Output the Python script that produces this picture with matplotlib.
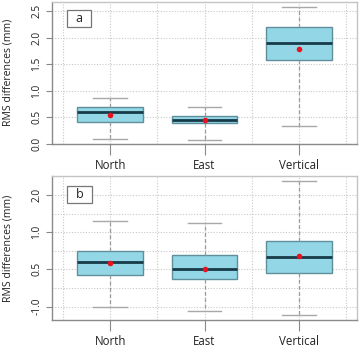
import matplotlib
matplotlib.use("Agg")
import matplotlib.pyplot as plt
from matplotlib.patches import Rectangle

plt.rcParams['font.family'] = ['Open Sans', 'DejaVu Sans']

categories = ["North", "East", "Vertical"]

# Panel a statistics (mm): whisker low, q1, median, q3, whisker high, mean
a_low = [0.09, 0.075, 0.33]
a_q1 = [0.41, 0.39, 1.57]
a_med = [0.60, 0.45, 1.89]
a_q3 = [0.69, 0.53, 2.20]
a_high = [0.86, 0.70, 2.58]
a_mean = [0.545, 0.46, 1.78]
a_ticks = [0.0, 0.5, 1.0, 1.5, 2.0, 2.5]
a_ticklabels = ["0.0", "0.5", "1.0", "1.5", "2.0", "2.5"]

# Panel b statistics, in tick-index units of the (irregularly labelled) axis
b_low = [-0.01, -0.125, -0.22]
b_q1 = [0.84, 0.74, 0.91]
b_med = [1.20, 1.01, 1.33]
b_q3 = [1.49, 1.38, 1.77]
b_high = [2.31, 2.24, 3.37]
b_mean = [1.16, 1.01, 1.36]
b_ticks = [0, 1, 2, 3]
b_ticklabels = ["-1.0", "0.5", "1.0", "2.0"]

fill = "#93d6e6"
edge = "#5f8f9a"
medc = "#173a48"
wc = "#9a9a9a"
meanc = "#e8121e"

fig = plt.figure(figsize=(3.63, 3.48), dpi=100)
ax_a = fig.add_axes([52/363, 1-144/348, 305/363, 142.3/348])
ax_b = fig.add_axes([52/363, 1-320/348, 305/363, 144/348])


def draw(ax, low, q1, med, q3, high, mean, ticks, labels, ylim, gridstep, letter, lbox):
    stats = []
    for i, c in enumerate(categories):
        stats.append(dict(label=c, whislo=low[i], q1=q1[i], med=med[i],
                          q3=q3[i], whishi=high[i], fliers=[]))
    ax.bxp(stats, positions=[1, 2, 3], widths=0.7, patch_artist=True,
           showfliers=False,
           boxprops=dict(facecolor=fill, edgecolor=edge, linewidth=1.0),
           medianprops=dict(color=medc, linewidth=2.0),
           whiskerprops=dict(color=wc, linewidth=0.9, linestyle=(0, (3, 2))),
           capprops=dict(color="#a8a8a8", linewidth=1.0),
           capwidths=0.36, zorder=3)
    ax.scatter([1, 2, 3], mean, s=16, color=meanc, zorder=5, linewidths=0)
    ax.set_xlim(0.38, 3.62)
    ax.set_ylim(*ylim)
    ys = []
    y = ticks[0]
    while y <= ylim[1] + 1e-9:
        ys.append(y)
        y += gridstep
    for yy in ys:
        ax.axhline(yy, color="#c8c8c8", linestyle=(0, (1, 1.5)), linewidth=0.8, zorder=1)
    for xx in [0.5, 1, 1.5, 2, 2.5, 3, 3.5]:
        ax.axvline(xx, color="#c8c8c8", linestyle=(0, (1, 1.5)), linewidth=0.8, zorder=1)
    ax.set_yticks(ticks)
    ax.set_yticklabels(labels, rotation=90, va="center", fontsize=7.3, color="#222222")
    ax.set_xticks([1, 2, 3])
    ax.set_xticklabels(categories, fontsize=8.3, color="#222222")
    ax.tick_params(axis="y", length=4, color="#888888", pad=3)
    ax.tick_params(axis="x", length=8, color="#888888", pad=3)
    ax.set_ylabel("RMS differences (mm)", fontsize=7.6, color="#222222")
    ax.yaxis.set_label_coords(-0.125, 0.5)
    for s in ["left", "bottom"]:
        ax.spines[s].set_color("#8a8a8a")
        ax.spines[s].set_linewidth(1.0)
    for s in ["top", "right"]:
        ax.spines[s].set_color("#c4c4c4")
        ax.spines[s].set_linewidth(1.0)
    x0, y0, x1, y1 = lbox
    ax.add_patch(Rectangle((x0, y0), x1 - x0, y1 - y0, transform=ax.transAxes,
                           facecolor="white", edgecolor="#777777", linewidth=0.9, zorder=6))
    ax.text((x0 + x1) / 2, (y0 + y1) / 2, letter, transform=ax.transAxes,
            ha="center", va="center", fontsize=9, color="#222222", zorder=7)


draw(ax_a, a_low, a_q1, a_med, a_q3, a_high, a_mean, a_ticks, a_ticklabels,
     (0.0, 2.675), 0.5, "a", (0.049, 0.822, 0.128, 0.942))
draw(ax_b, b_low, b_q1, b_med, b_q3, b_high, b_mean, b_ticks, b_ticklabels,
     (-0.36, 3.51), 0.5, "b", (0.049, 0.812, 0.131, 0.931))

fig.savefig("out.png", dpi=100)
